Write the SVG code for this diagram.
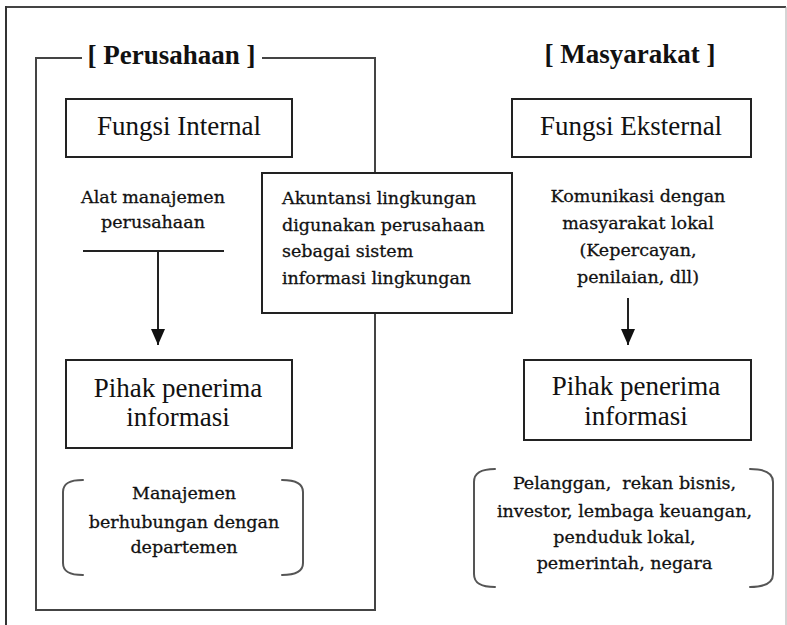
<svg xmlns="http://www.w3.org/2000/svg" width="787" height="625" viewBox="0 0 787 625">
<style>
.small{font-family:"DejaVu Serif","Liberation Serif",serif;font-size:17.5px;fill:#111;stroke:#111;stroke-width:0.3}
.big{font-family:"Liberation Serif","DejaVu Serif",serif;font-size:27px;fill:#111}
.title{font-family:"Liberation Serif","DejaVu Serif",serif;font-size:27px;font-weight:bold;fill:#111}
.box{fill:#fff;stroke:#222;stroke-width:2}
.frame{fill:none;stroke:#444;stroke-width:2}
.brk{fill:none;stroke:#555;stroke-width:2;stroke-linecap:round}
.conn{fill:none;stroke:#222;stroke-width:2}
</style>
<defs>
<marker id="ah" viewBox="0 0 16 16" markerWidth="16" markerHeight="16" refX="16" refY="8" orient="auto" markerUnits="userSpaceOnUse">
<path d="M0,1 L16,8 L0,15 Z" fill="#111"/>
</marker>
</defs>
<rect width="787" height="625" fill="#fff"/>
<g id="outer-frame">
<line x1="6" y1="7" x2="786" y2="7" stroke="#444" stroke-width="2"/>
<line x1="6" y1="6" x2="6" y2="625" stroke="#333" stroke-width="2"/>
<line x1="786" y1="7" x2="786" y2="625" stroke="#aaa" stroke-width="1"/>
</g>
<g id="perusahaan">
<path class="frame" d="M82,58 H36 V610 H375 V58 H262"/>
<text class="title" x="171.5" y="64" text-anchor="middle">[ Perusahaan ]</text>
</g>
<g id="masyarakat">
<text class="title" x="630" y="63" text-anchor="middle">[ Masyarakat ]</text>
</g>
<g id="fungsi-internal">
<rect class="box" x="66" y="99" width="226" height="58"/>
<text class="big" x="179" y="135" text-anchor="middle">Fungsi Internal</text>
</g>
<g id="fungsi-eksternal">
<rect class="box" x="512" y="99" width="239" height="58"/>
<text class="big" x="631" y="135" text-anchor="middle">Fungsi Eksternal</text>
</g>
<g id="alat-manajemen">
<text class="small" x="153" y="202.5" text-anchor="middle">Alat manajemen</text>
<text class="small" x="153" y="228" text-anchor="middle">perusahaan</text>
</g>
<g id="akuntansi">
<rect class="box" x="262" y="173" width="250" height="140"/>
<text class="small" x="282" y="204">Akuntansi lingkungan</text>
<text class="small" x="282" y="230.5">digunakan perusahaan</text>
<text class="small" x="282" y="257">sebagai sistem</text>
<text class="small" x="282" y="283.5">informasi lingkungan</text>
</g>
<g id="komunikasi">
<text class="small" x="638" y="202" text-anchor="middle">Komunikasi dengan</text>
<text class="small" x="638" y="229" text-anchor="middle">masyarakat lokal</text>
<text class="small" x="638" y="256" text-anchor="middle">(Kepercayan,</text>
<text class="small" x="638" y="283" text-anchor="middle">penilaian, dll)</text>
</g>
<g id="pihak-internal">
<rect class="box" x="66" y="360" width="226" height="88"/>
<text class="big" x="178" y="397" text-anchor="middle">Pihak penerima</text>
<text class="big" x="178" y="426" text-anchor="middle">informasi</text>
</g>
<g id="pihak-eksternal">
<rect class="box" x="524" y="360" width="227" height="80"/>
<text class="big" x="636" y="395" text-anchor="middle">Pihak penerima</text>
<text class="big" x="636" y="425" text-anchor="middle">informasi</text>
</g>
<g id="manajemen">
<path class="brk" d="M83,480 C70,480 63,483 63,492 V563 C63,572 70,575 83,575"/>
<path class="brk" d="M282,480 C295,480 303,483 303,492 V563 C303,572 295,575 282,575"/>
<text class="small" x="184" y="499" text-anchor="middle">Manajemen</text>
<text class="small" x="184" y="528" text-anchor="middle">berhubungan dengan</text>
<text class="small" x="184" y="553" text-anchor="middle">departemen</text>
</g>
<g id="penerima-eksternal">
<path class="brk" d="M495,469 C482,469 474,472 474,482 V574 C474,584 482,587 495,587"/>
<path class="brk" d="M750,469 C764,469 773,472 773,482 V574 C773,584 764,587 750,587"/>
<text class="small" x="624.5" y="489" text-anchor="middle" style="white-space:pre">Pelanggan,  rekan bisnis,</text>
<text class="small" x="624.5" y="516.5" text-anchor="middle">investor, lembaga keuangan,</text>
<text class="small" x="624.5" y="542.5" text-anchor="middle">penduduk lokal,</text>
<text class="small" x="624.5" y="569" text-anchor="middle">pemerintah, negara</text>
</g>
<g id="connectors">
<line class="conn" x1="83" y1="251" x2="224" y2="251"/>
<line class="conn" x1="158" y1="251" x2="158" y2="345" marker-end="url(#ah)"/>
<line class="conn" x1="628" y1="298" x2="628" y2="345" marker-end="url(#ah)"/>
</g>
</svg>
